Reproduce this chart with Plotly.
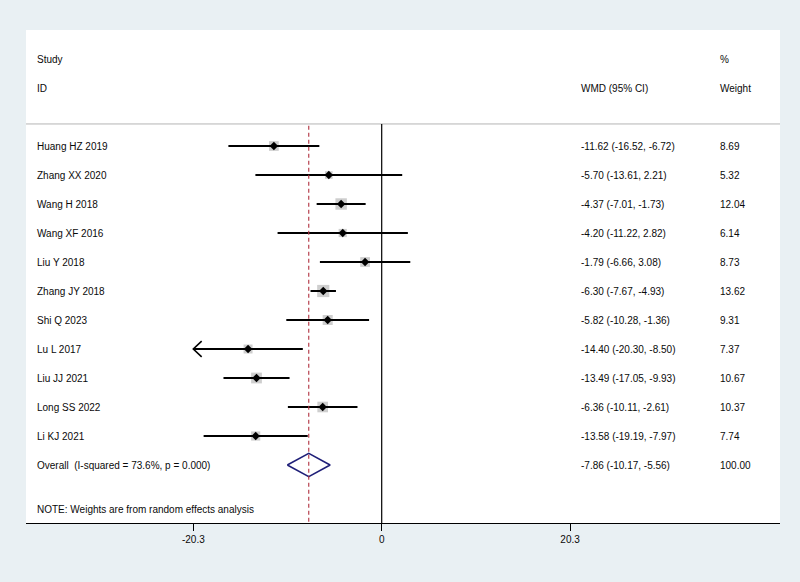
import plotly.graph_objects as go
import math

# ---- data ----
studies = ["Huang HZ 2019", "Zhang XX 2020", "Wang H 2018", "Wang XF 2016", "Liu Y 2018",
           "Zhang JY 2018", "Shi Q 2023", "Lu L 2017", "Liu JJ 2021", "Long SS 2022", "Li KJ 2021"]
wmd = [-11.62, -5.70, -4.37, -4.20, -1.79, -6.30, -5.82, -14.40, -13.49, -6.36, -13.58]
ci_low = [-16.52, -13.61, -7.01, -11.22, -6.66, -7.67, -10.28, -20.30, -17.05, -10.11, -19.19]
ci_high = [-6.72, 2.21, -1.73, 2.82, 3.08, -4.93, -1.36, -8.50, -9.93, -2.61, -7.97]
weights = [8.69, 5.32, 12.04, 6.14, 8.73, 13.62, 9.31, 7.37, 10.67, 10.37, 7.74]
overall = {"wmd": -7.86, "low": -10.17, "high": -5.56, "weight": 100.00, "i2": 73.6, "p": 0.000}
tick_vals = [-20.3, 0, 20.3]
tick_text = ["-20.3", "0", "20.3"]

# ---- layout geometry ----
X_MIN, X_MAX = -38.33, 42.92
Y_TOP, Y_BOT = -4.0, 13.0
FONT = "Liberation Sans, Arial, Helvetica, sans-serif"
TXT = "#0a0a0a"
BG = "#e9f0f3"
rows = list(range(len(studies)))
overall_row = len(studies)
clip_min = min(tick_vals)

fig = go.Figure()

# grey weight boxes
fig.add_trace(go.Scatter(
    x=wmd, y=rows, mode="markers",
    marker=dict(symbol="square", size=[3.3 * math.sqrt(w) for w in weights],
                color="#b9b9b9", line=dict(width=0)),
    hoverinfo="skip", showlegend=False))

# CI lines (clip at axis min with arrow)
for r, lo, hi in zip(rows, ci_low, ci_high):
    lo_c = max(lo, clip_min)
    fig.add_trace(go.Scatter(x=[lo_c, hi], y=[r, r], mode="lines",
                             line=dict(color="black", width=2),
                             hoverinfo="skip", showlegend=False))
    if lo <= clip_min:
        fig.add_trace(go.Scatter(x=[lo_c + 0.9, lo_c, lo_c + 0.9], y=[r - 0.27, r, r + 0.27],
                                 mode="lines", line=dict(color="black", width=1.6),
                                 hoverinfo="skip", showlegend=False))

# point estimates
fig.add_trace(go.Scatter(
    x=wmd, y=rows, mode="markers",
    marker=dict(symbol="diamond", size=6.5, color="black"),
    hoverinfo="skip", showlegend=False))

# overall diamond
fig.add_trace(go.Scatter(
    x=[overall["low"], overall["wmd"], overall["high"], overall["wmd"], overall["low"]],
    y=[overall_row, overall_row - 0.4, overall_row, overall_row + 0.4, overall_row],
    mode="lines", line=dict(color="#1f1f78", width=1.6),
    hoverinfo="skip", showlegend=False))

# reference lines
shapes = [
    dict(type="line", xref="paper", yref="y", x0=0, x1=1, y0=-0.76, y1=-0.76,
         line=dict(color="#b4b4b4", width=1)),
    dict(type="line", xref="x", yref="y", x0=0, x1=0, y0=-0.76, y1=Y_BOT,
         line=dict(color="black", width=1.2)),
    dict(type="line", xref="x", yref="y", x0=overall["wmd"], x1=overall["wmd"], y0=-0.7, y1=Y_BOT,
         line=dict(color="#b0303f", width=1.1, dash="4px,3px")),
]

# text annotations
X_STUDY, X_WMD, X_W = 0.0119, 0.7334, 0.9174
ann = []
def add_text(x, y, s):
    ann.append(dict(xref="paper", yref="y", x=x, y=y, text=s, showarrow=False,
                    xanchor="left", yanchor="middle", font=dict(family=FONT, size=10, color=TXT)))

add_text(X_STUDY, -3, "Study")
add_text(X_STUDY, -2, "ID")
add_text(X_W, -3, "%")
add_text(X_WMD, -2, "WMD (95% CI)")
add_text(X_W, -2, "Weight")
for r, s, m, lo, hi, w in zip(rows, studies, wmd, ci_low, ci_high, weights):
    add_text(X_STUDY, r, s)
    add_text(X_WMD, r, f"{m:.2f} ({lo:.2f}, {hi:.2f})")
    add_text(X_W, r, f"{w:.2f}")
add_text(X_STUDY, overall_row,
         f"Overall  (I-squared = {overall['i2']:.1f}%, p = {overall['p']:.3f})")
add_text(X_WMD, overall_row,
         f"{overall['wmd']:.2f} ({overall['low']:.2f}, {overall['high']:.2f})")
add_text(X_W, overall_row, f"{overall['weight']:.2f}")
add_text(X_STUDY, 12.55, "NOTE: Weights are from random effects analysis")

fig.update_layout(
    width=800, height=582,
    margin=dict(l=26, r=20, t=30, b=59, pad=0),
    paper_bgcolor=BG, plot_bgcolor="white",
    shapes=shapes, annotations=ann, showlegend=False,
    xaxis=dict(range=[X_MIN, X_MAX], tickvals=tick_vals, ticktext=tick_text,
               showgrid=False, zeroline=False, showline=True, linecolor="black", linewidth=1.2,
               ticks="outside", ticklen=7, tickcolor="black", tickwidth=1,
               tickfont=dict(family=FONT, size=10, color=TXT), fixedrange=True),
    yaxis=dict(range=[Y_BOT, Y_TOP], visible=False, showgrid=False, zeroline=False, fixedrange=True),
)

fig.write_html("out.html", config={"displayModeBar": False},
               post_script="document.body.style.margin='0px';document.body.style.background='%s';" % BG)
